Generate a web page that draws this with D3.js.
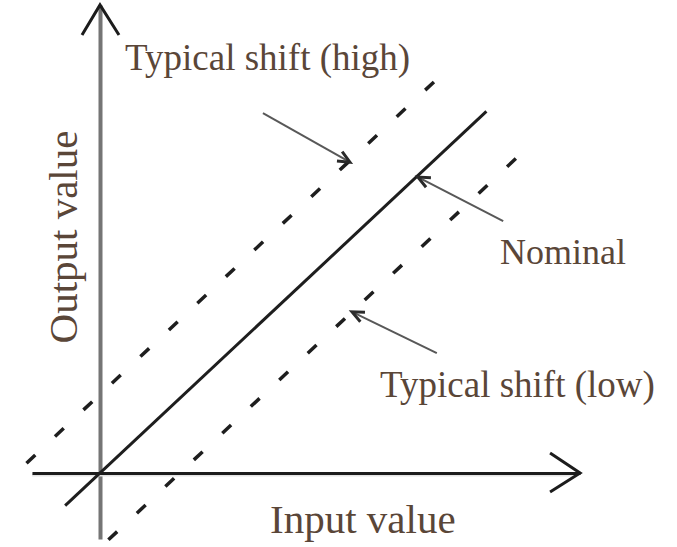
<!DOCTYPE html>
<html>
<head>
<meta charset="utf-8">
<script src="https://cdn.jsdelivr.net/npm/d3@7"></script>
<style>
  body { margin: 0; background: #fff; }
  text { font-family: "Liberation Serif", "Times New Roman", serif; fill: #5a4638; }
</style>
</head>
<body>
<svg id="chart"></svg>
<script>
// line definitions: y = x + offset, drawn between xStart and xEnd
const lineNames = ['high', 'nominal', 'low'];
const lineOffsets = [2.0, 0, -1.9];
const lineStarts = [-1.75, -0.83, 0.2];
const lineEnds = [8.05, 9.2, 9.95];

// annotation arrows (tail -> tip), in data units
const arrowNames = ['high', 'nominal', 'low'];
const arrowTailX = [3.88, 9.6, 8.02];
const arrowTailY = [9.16, 6.41, 3.05];
const arrowTipX = [5.95, 7.57, 6.0];
const arrowTipY = [7.91, 7.53, 4.1];

// axis extents
const xAxisDomain = [-1.62, 11.43];
const yAxisDomain = [-1.68, 11.91];

class shiftChart {
    constructor(_config) {
        this.config = {
            parentElement: _config.parentElement,
            width: 677,
            height: 547
        };
        this.initVis();
    }

    initVis() {
        let vis = this;

        vis.svg = d3.select(vis.config.parentElement)
            .attr('width', vis.config.width)
            .attr('height', vis.config.height);

        // 1 unit = 42px horizontally, 39.3px vertically, origin at (100, 473)
        vis.xScale = d3.scaleLinear().domain([0, 10]).range([100, 520]);
        vis.yScale = d3.scaleLinear().domain([0, 10]).range([473, 80]);

        const xAxisScale = d3.scaleLinear().domain(xAxisDomain)
            .range(xAxisDomain.map(vis.xScale));
        const yAxisScale = d3.scaleLinear().domain(yAxisDomain)
            .range(yAxisDomain.map(vis.yScale));

        // y axis (grey)
        const yAxisG = vis.svg.append('g')
            .attr('transform', `translate(${vis.xScale(0)},0)`)
            .call(d3.axisLeft(yAxisScale).tickValues([]).tickSizeOuter(0));
        yAxisG.select('.domain').attr('stroke', '#757575').attr('stroke-width', 4);

        // x axis (black with light halo)
        vis.svg.append('line')
            .attr('x1', xAxisScale.range()[0]).attr('x2', xAxisScale.range()[1] - 4)
            .attr('y1', vis.yScale(0) + 2).attr('y2', vis.yScale(0) + 2)
            .attr('stroke', '#e4e4e4').attr('stroke-width', 3);
        const xAxisG = vis.svg.append('g')
            .attr('transform', `translate(0,${vis.yScale(0)})`)
            .call(d3.axisBottom(xAxisScale).tickValues([]).tickSizeOuter(0));
        xAxisG.select('.domain').attr('stroke', '#1c1c1c').attr('stroke-width', 3);

        // axis arrowheads (open chevrons)
        const yTop = yAxisScale.range()[1];
        const x0 = vis.xScale(0);
        vis.svg.append('path')
            .attr('d', `M${x0 - 18},${yTop + 30} L${x0},${yTop} L${x0 + 19},${yTop + 30}`)
            .attr('fill', 'none').attr('stroke', '#1c1c1c').attr('stroke-width', 3);
        const xRight = xAxisScale.range()[1];
        const y0 = vis.yScale(0);
        vis.svg.append('path')
            .attr('d', `M${xRight - 30},${y0 - 20} L${xRight},${y0} L${xRight - 30},${y0 + 19}`)
            .attr('fill', 'none').attr('stroke', '#1c1c1c').attr('stroke-width', 3);

        // the three transfer lines
        const lineData = lineNames.map((name, i) => ({
            name: name,
            pts: [lineStarts[i], lineEnds[i]].map(x => [x, x + lineOffsets[i]])
        }));
        const lineGen = d3.line().x(d => vis.xScale(d[0])).y(d => vis.yScale(d[1]));

        vis.svg.selectAll('.tline')
            .data(lineData)
            .join('path')
            .attr('class', 'tline')
            .attr('d', d => lineGen(d.pts))
            .attr('fill', 'none')
            .attr('stroke', '#1e1e1e')
            .attr('stroke-width', d => d.name === 'nominal' ? 3 : 3.5)
            .attr('stroke-dasharray', d => d.name === 'nominal' ? null : '12,27');

        // annotation arrows
        const arrows = arrowNames.map((name, i) => ({
            x1: vis.xScale(arrowTailX[i]), y1: vis.yScale(arrowTailY[i]),
            x2: vis.xScale(arrowTipX[i]), y2: vis.yScale(arrowTipY[i])
        }));
        vis.svg.selectAll('.ann')
            .data(arrows)
            .join('line')
            .attr('class', 'ann')
            .attr('x1', d => d.x1).attr('y1', d => d.y1)
            .attr('x2', d => d.x2).attr('y2', d => d.y2)
            .attr('stroke', '#585858').attr('stroke-width', 2);
        vis.svg.selectAll('.annhead')
            .data(arrows)
            .join('path')
            .attr('class', 'annhead')
            .attr('d', d => {
                const a = Math.atan2(d.y2 - d.y1, d.x2 - d.x1);
                const L = 13, s = 0.42;
                const p1 = [d.x2 - L * Math.cos(a - s), d.y2 - L * Math.sin(a - s)];
                const p2 = [d.x2 - L * Math.cos(a + s), d.y2 - L * Math.sin(a + s)];
                return `M${p1} L${d.x2},${d.y2} L${p2}`;
            })
            .attr('fill', 'none').attr('stroke', '#2a2a2a').attr('stroke-width', 3);

        // labels
        vis.svg.append('text').attr('x', 125).attr('y', 70)
            .style('font-size', '37px').text('Typical shift (high)');
        vis.svg.append('text').attr('x', 500).attr('y', 264)
            .style('font-size', '36px').text('Nominal');
        vis.svg.append('text').attr('x', 380).attr('y', 397)
            .style('font-size', '37px').text('Typical shift (low)');

        // axis titles
        vis.svg.append('text').attr('x', 270).attr('y', 533)
            .style('font-size', '41px').text('Input value');
        vis.svg.append('text')
            .attr('transform', 'translate(77,237) rotate(-90)')
            .attr('text-anchor', 'middle')
            .style('font-size', '41px').text('Output value');
    }
}

new shiftChart({ parentElement: '#chart' });
</script>
</body>
</html>
